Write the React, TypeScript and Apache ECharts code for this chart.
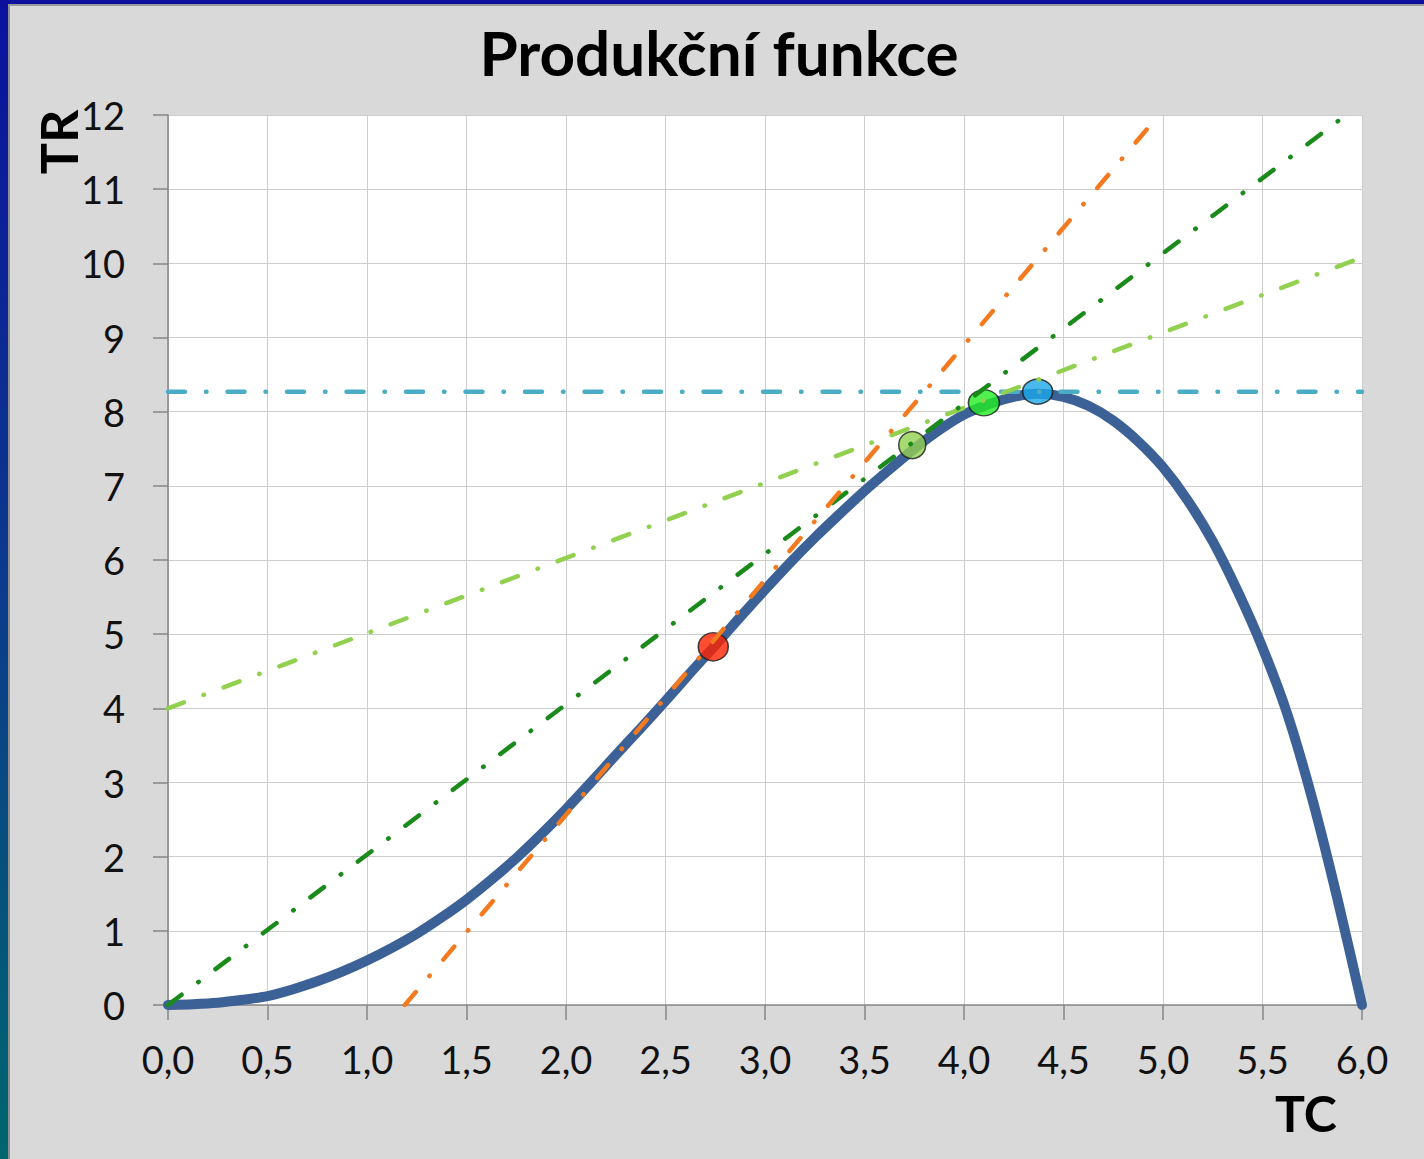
import React, { useEffect, useRef } from "react";
import * as echarts from "echarts";

// Production function TR(TC)
const tcValues = [
  0, 0.125, 0.25, 0.375, 0.5, 0.625, 0.75, 0.875, 1.0, 1.125, 1.25, 1.375, 1.5, 1.625, 1.75, 1.875,
  2.0, 2.125, 2.25, 2.375, 2.5, 2.625, 2.75, 2.875, 3.0, 3.125, 3.25, 3.375, 3.5, 3.625, 3.75, 3.875,
  4.0, 4.125, 4.25, 4.375, 4.5, 4.625, 4.75, 4.875, 5.0, 5.125, 5.25, 5.375, 5.5, 5.625, 5.75, 5.875, 6.0,
];
const trValues = [
  0, 0.01, 0.03, 0.07, 0.12, 0.21, 0.32, 0.45, 0.6, 0.77, 0.96, 1.18, 1.42, 1.69, 1.98, 2.3,
  2.64, 3.0, 3.37, 3.73, 4.1, 4.48, 4.85, 5.23, 5.6, 5.96, 6.3, 6.62, 6.93, 7.22, 7.5, 7.75,
  7.96, 8.1, 8.2, 8.24, 8.2, 8.08, 7.88, 7.6, 7.25, 6.8, 6.25, 5.58, 4.82, 3.92, 2.78, 1.45, 0,
];

// Straight reference lines (start and end points)
const orangeLine = [[1.19, 0], [4.98, 12]];
const darkGreenLine = [[0, 0], [5.92, 12]];
const lightGreenLine = [[0, 4.0], [6, 10.08]];
const cyanLine = [[0, 8.27], [6, 8.27]];

// Highlighted points on the curve
const markerPoints = [[2.74, 4.83], [3.74, 7.55], [4.1, 8.12], [4.37, 8.27]];
const markerColors = ["#ff2200", "#92d050", "#22ee22", "#1aa6e8"];
const markerSizes = [[30, 28], [27, 27], [31, 26], [30, 25]];

const xTicks = { min: 0, max: 6, interval: 0.5 };
const yTicks = { min: 0, max: 12, interval: 1 };

export default function App() {
  const ref = useRef<HTMLDivElement>(null);
  useEffect(() => {
    if (!ref.current) return;
    const chart = echarts.init(ref.current, undefined, { renderer: "svg" });
    const dashLine = (data: number[][], color: string, z: number) => ({
      type: "line",
      data,
      z,
      symbol: "none",
      silent: true,
      lineStyle: { color, width: 4.5, type: [17, 21, 0.5, 21], cap: "round" },
    });
    const option: any = {
      animation: false,
      backgroundColor: "#d9d9d9",
      grid: {
        left: 168,
        right: 62,
        top: 115,
        bottom: 154,
        show: true,
        backgroundColor: "#ffffff",
        borderWidth: 0,
      },
      xAxis: {
        type: "value",
        min: xTicks.min,
        max: xTicks.max,
        interval: xTicks.interval,
        axisLine: { show: true, onZero: false, lineStyle: { color: "#868686", width: 1.5 } },
        axisTick: { show: true, inside: false, length: 15, lineStyle: { color: "#868686", width: 1.5 } },
        splitLine: { show: true, lineStyle: { color: "#cdcdcd", width: 1 } },
        axisLabel: {
          margin: 35,
          color: "#111",
          fontFamily: "Lato",
          fontSize: 38,
          formatter: (v: number) => v.toFixed(1).replace(".", ","),
        },
      },
      yAxis: {
        type: "value",
        min: yTicks.min,
        max: yTicks.max,
        interval: yTicks.interval,
        axisLine: { show: true, onZero: false, lineStyle: { color: "#868686", width: 1.5 } },
        axisTick: { show: true, inside: false, length: 15, lineStyle: { color: "#868686", width: 1.5 } },
        splitLine: { show: true, lineStyle: { color: "#cdcdcd", width: 1 } },
        axisLabel: { margin: 43, color: "#111", fontFamily: "Lato", fontSize: 38 },
      },
      series: [
        {
          type: "line",
          data: tcValues.map((x, i) => [x, trValues[i]]),
          smooth: 0.25,
          symbol: "none",
          z: 2,
          lineStyle: { color: "#3c6197", width: 10, join: "round", cap: "round" },
        },
        {
          type: "scatter",
          z: 3,
          data: markerPoints.map((p, i) => ({
            value: p,
            symbolSize: markerSizes[i],
            itemStyle: { color: markerColors[i], borderColor: "#1a1a1a", borderWidth: 1.5 },
          })),
        },
        dashLine(cyanLine, "#4bacc6", 4),
        dashLine(lightGreenLine, "#92d050", 4),
        dashLine(darkGreenLine, "#1a8a1a", 4),
        dashLine(orangeLine, "#f47a20", 4),
      ],
      graphic: [
        {
          type: "rect",
          shape: { x: 0, y: 0, width: 1424, height: 4 },
          style: { fill: "#0b119e" },
          silent: true,
        },
        {
          type: "rect",
          shape: { x: 0, y: 0, width: 8, height: 1159 },
          style: {
            fill: new echarts.graphic.LinearGradient(0, 0, 0, 1, [
              { offset: 0, color: "#0b119e" },
              { offset: 0.5, color: "#0c3a8c" },
              { offset: 1, color: "#00666e" },
            ]),
          },
          silent: true,
        },
        {
          type: "rect",
          shape: { x: 8, y: 4, width: 2, height: 1155 },
          style: { fill: "#8e8e8e" },
          silent: true,
        },
        {
          type: "rect",
          shape: { x: 8, y: 4, width: 1416, height: 2 },
          style: { fill: "#9a9a9a" },
          silent: true,
        },
        {
          type: "text",
          x: 719,
          y: 52,
          style: {
            text: "Produkční funkce",
            font: "bold 62px Lato",
            fill: "#000",
            textAlign: "center",
            textVerticalAlign: "middle",
          },
        },
        {
          type: "text",
          x: 58,
          y: 142,
          rotation: Math.PI / 2,
          style: {
            text: "TR",
            font: "bold 52px Lato",
            fill: "#000",
            textAlign: "center",
            textVerticalAlign: "middle",
          },
        },
        {
          type: "text",
          x: 1306,
          y: 1113,
          style: {
            text: "TC",
            font: "bold 50px Lato",
            fill: "#000",
            textAlign: "center",
            textVerticalAlign: "middle",
          },
        },
      ],
    };
    chart.setOption(option);
    return () => chart.dispose();
  }, []);
  return (
    <div
      ref={ref}
      style={{ position: "fixed", left: 0, top: 0, width: 1424, height: 1159 }}
    />
  );
}
